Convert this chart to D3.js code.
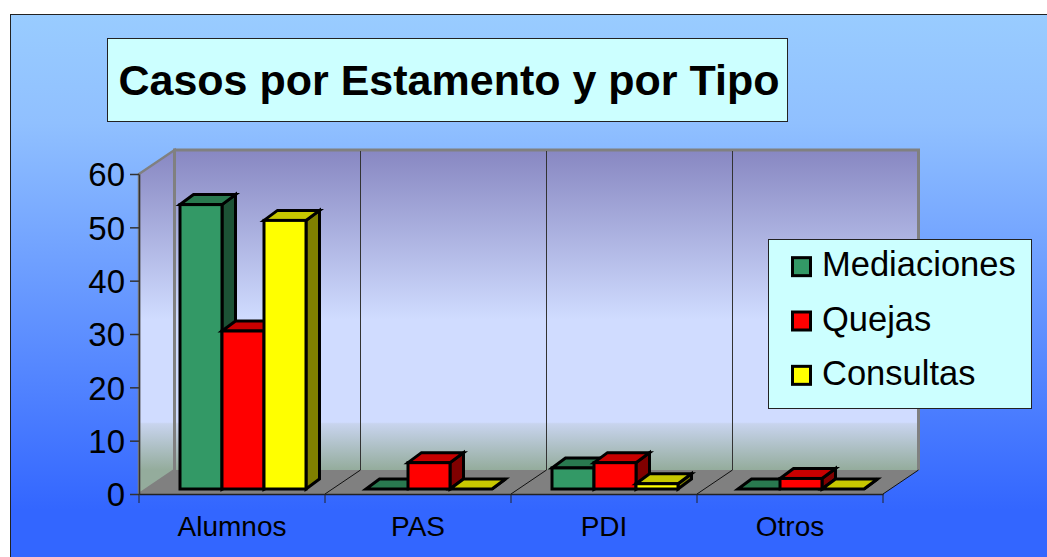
<!DOCTYPE html>
<html>
<head>
<meta charset="utf-8">
<script src="https://cdn.jsdelivr.net/npm/d3@7"></script>
<style>
html,body{margin:0;padding:0;background:#fff;overflow:hidden}
text{font-family:"Liberation Sans",Arial,sans-serif;fill:#000}
</style>
</head>
<body>
<svg id="chart"></svg>
<script>
var width = 1047, height = 557;

var categories = ["Alumnos", "PAS", "PDI", "Otros"];
var seriesNames = ["Mediaciones", "Quejas", "Consultas"];
var mediaciones = [54, 0, 4, 0];
var quejas = [30, 5, 5, 2];
var consultas = [51, 0, 1, 0];
var yTicks = [0, 10, 20, 30, 40, 50, 60];
var titleText = "Casos por Estamento y por Tipo";

var seriesValues = [mediaciones, quejas, consultas];
var frontColors = ["#339966", "#ff0000", "#ffff00"];
var topColors = ["#29794f", "#c80000", "#c8c800"];
var sideColors = ["#1c5235", "#800000", "#808000"];

var svg = d3.select("#chart").attr("width", width).attr("height", height);
var defs = svg.append("defs");

function gradient(id, stops, y1, y2) {
    var g = defs.append("linearGradient").attr("id", id)
        .attr("gradientUnits", "userSpaceOnUse")
        .attr("x1", 0).attr("x2", 0).attr("y1", y1).attr("y2", y2);
    stops.forEach(function(s) {
        g.append("stop").attr("offset", s[0]).attr("stop-color", s[1]);
    });
}
gradient("bg", [[0, "#99ccff"], [0.22, "#90c0ff"], [1, "#3366ff"]], 14, 510);
gradient("wall", [[0, "#8888c2"], [0.53, "#d0dcff"], [0.85, "#d0dcff"], [0.855, "#c8d4ee"], [1, "#94ac9c"]], 151, 470);

// frame
svg.append("rect").attr("x", 10.5).attr("y", 14.5)
    .attr("width", width).attr("height", height)
    .attr("fill", "url(#bg)").attr("stroke", "#222").attr("stroke-width", 1);

// scales
var plot = {left: 139, right: 883, top: 174, bottom: 494};
var depth = {x: 35.5, y: -24};
var barDepth = {x: 13.5, y: -10};
var barLift = 5;

var x0 = d3.scaleBand().domain(categories).range([plot.left, plot.right]);
var x1 = d3.scaleBand().domain(seriesNames).range([41, 167]);
var y = d3.scaleLinear().domain([0, 60]).range([plot.bottom, plot.top]);
var barH = d3.scaleLinear().domain([0, 60]).range([0, 316]);

function poly(pts) { return pts.map(function(p) { return p.join(","); }).join(" "); }

// walls and floor
var walls = svg.append("g");
walls.append("polygon").attr("fill", "url(#wall)")
    .attr("points", poly([[plot.left + depth.x, plot.top + depth.y], [plot.right + depth.x, plot.top + depth.y],
        [plot.right + depth.x, plot.bottom + depth.y], [plot.left + depth.x, plot.bottom + depth.y]]));
walls.append("polygon").attr("fill", "url(#wall)").attr("stroke", "#808080").attr("stroke-width", 2.5)
    .attr("points", poly([[plot.left, plot.top], [plot.left + depth.x, plot.top + depth.y],
        [plot.left + depth.x, plot.bottom + depth.y], [plot.left, plot.bottom]]));
walls.append("polygon").attr("fill", "#808080")
    .attr("points", poly([[plot.left, plot.bottom], [plot.right, plot.bottom],
        [plot.right + depth.x, plot.bottom + depth.y], [plot.left + depth.x, plot.bottom + depth.y]]));
walls.append("polyline").attr("fill", "none").attr("stroke", "#808080").attr("stroke-width", 3)
    .attr("points", poly([[plot.left + depth.x, plot.bottom + depth.y], [plot.left + depth.x, plot.top + depth.y],
        [plot.right + depth.x, plot.top + depth.y], [plot.right + depth.x, plot.bottom + depth.y]]));

// dividers between the categories
categories.forEach(function(c, i) {
    var px = x0(c);
    if (i > 0) {
        walls.append("line").attr("x1", px + depth.x).attr("x2", px + depth.x)
            .attr("y1", plot.top + depth.y + 1).attr("y2", plot.bottom + depth.y)
            .attr("stroke", "#333").attr("stroke-width", 1);
        walls.append("line").attr("x1", px).attr("x2", px + depth.x)
            .attr("y1", plot.bottom).attr("y2", plot.bottom + depth.y)
            .attr("stroke", "#111").attr("stroke-width", 1);
    }
});
walls.append("line").attr("x1", plot.right).attr("x2", plot.right + depth.x)
    .attr("y1", plot.bottom).attr("y2", plot.bottom + depth.y)
    .attr("stroke", "#111").attr("stroke-width", 1);

// bars, painted left to right so each one overlaps its neighbour correctly
var bars = svg.append("g").attr("stroke", "#000").attr("stroke-width", 3).attr("stroke-linejoin", "miter");
categories.forEach(function(c, ci) {
    seriesNames.forEach(function(s, si) {
        var v = seriesValues[si][ci];
        var l = x0(c) + x1(s), r = l + x1.bandwidth();
        var b = plot.bottom - barLift, t = b - barH(v);
        var dx = barDepth.x, dy = barDepth.y;
        bars.append("polygon").attr("fill", sideColors[si])
            .attr("points", poly([[r, b], [r + dx, b + dy], [r + dx, t + dy], [r, t]]));
        bars.append("polygon").attr("fill", topColors[si])
            .attr("points", poly([[l, t], [r, t], [r + dx, t + dy], [l + dx, t + dy]]));
        if (v > 0) {
            bars.append("rect").attr("fill", frontColors[si])
                .attr("x", l).attr("y", t).attr("width", r - l).attr("height", b - t);
        }
    });
});

// axes
var yAxis = d3.axisLeft(y).tickValues(yTicks).tickSize(9).tickPadding(5).tickSizeOuter(0);
var gy = svg.append("g").attr("transform", "translate(" + plot.left + ",0)").call(yAxis);
gy.selectAll("text").style("font-size", "33px").attr("dy", "0.36em");
gy.select(".domain").attr("stroke", "#333").attr("stroke-width", 1.5);
gy.selectAll("line").attr("stroke", "#333").attr("stroke-width", 1.5);

var xAxis = d3.axisBottom(x0).tickSize(0).tickPadding(22).tickSizeOuter(0);
var gx = svg.append("g").attr("transform", "translate(0," + plot.bottom + ")").call(xAxis);
gx.selectAll("text").style("font-size", "28px");
gx.select(".domain").attr("stroke", "#222").attr("stroke-width", 1.5);

var edges = categories.map(function(c) { return x0(c); }).concat([plot.right]);
gx.selectAll(".edge").data(edges).enter().append("line").attr("class", "edge")
    .attr("x1", function(d) { return d; }).attr("x2", function(d) { return d; })
    .attr("y1", 0).attr("y2", 9).attr("stroke", "#222").attr("stroke-width", 1);

// title box
svg.append("rect").attr("x", 107.5).attr("y", 38.5).attr("width", 680).attr("height", 83)
    .attr("fill", "#ccffff").attr("stroke", "#222").attr("stroke-width", 1);
svg.append("text").attr("x", 449).attr("y", 95).attr("text-anchor", "middle")
    .style("font-size", "43px").style("font-weight", "bold").text(titleText);

// legend
var legend = svg.append("g");
legend.append("rect").attr("x", 768.5).attr("y", 239.5).attr("width", 263).attr("height", 169)
    .attr("fill", "#ccffff").attr("stroke", "#222").attr("stroke-width", 1);
var rows = d3.scaleBand().domain(seriesNames).range([240, 403]);
seriesNames.forEach(function(s, i) {
    var cy = rows(s) + rows.bandwidth() / 2;
    legend.append("rect").attr("x", 792.5).attr("y", cy - 9.5).attr("width", 18).attr("height", 18)
        .attr("fill", frontColors[i]).attr("stroke", "#000").attr("stroke-width", 3);
    legend.append("text").attr("x", 822).attr("y", cy + 9).style("font-size", "34.5px").text(s);
});
</script>
</body>
</html>
